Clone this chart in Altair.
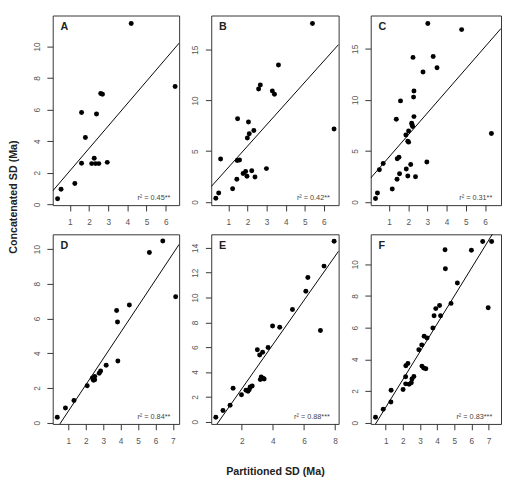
import altair as alt
import pandas as pd

FONT = "Liberation Sans"

panel_letters = ["A", "B", "C", "D", "E", "F"]

A_x = [0.36, 0.54, 1.26, 1.61, 1.61, 1.81, 2.14, 2.27, 2.34, 2.51, 2.39, 2.61, 2.70, 2.95, 4.20, 6.49]
A_y = [0.36, 0.95, 1.32, 2.60, 5.82, 4.24, 2.58, 2.92, 2.58, 2.58, 5.72, 7.02, 6.98, 2.66, 11.46, 7.46]

B_x = [0.34, 0.49, 0.59, 1.22, 1.44, 1.48, 1.46, 1.58, 1.77, 1.90, 1.97, 1.99, 2.05, 2.09, 2.22, 2.33,
       2.39, 2.58, 2.67, 2.99, 3.30, 3.41, 3.62, 5.40, 6.53]
B_y = [0.35, 0.88, 4.22, 1.29, 2.24, 8.19, 4.07, 4.13, 2.80, 2.99, 2.52, 6.30, 7.88, 6.71, 3.06, 7.03,
       2.46, 11.12, 11.53, 3.28, 10.94, 10.62, 13.49, 17.59, 7.19]

C_x = [0.30, 0.40, 0.50, 0.70, 1.17, 1.38, 1.42, 1.43, 1.52, 1.55, 1.60, 1.88, 1.90, 1.98, 1.98, 2.02,
       2.02, 2.13, 2.18, 2.20, 2.23, 2.25, 2.28, 2.30, 2.30, 2.38, 2.77, 2.97, 3.02, 3.30, 3.50, 4.78, 6.33]
C_y = [0.34, 0.88, 3.16, 3.76, 1.28, 8.11, 2.22, 4.23, 4.38, 2.76, 9.90, 6.55, 3.23, 2.54, 5.95, 5.86,
       6.95, 3.66, 7.70, 7.55, 7.39, 14.16, 10.27, 10.87, 8.36, 2.47, 12.72, 3.91, 17.48, 14.25, 13.15, 16.88, 6.70]

D_x = [0.36, 0.83, 1.32, 2.08, 2.38, 2.51, 2.44, 2.51, 2.77, 2.85, 3.17, 3.77, 3.82, 3.84, 4.50, 5.65, 6.42, 7.16]
D_y = [0.31, 0.85, 1.28, 2.13, 2.57, 2.67, 2.44, 2.48, 2.85, 2.98, 3.31, 6.46, 5.80, 3.56, 6.78, 9.80, 10.46, 7.26]

E_x = [0.33, 0.79, 1.25, 1.44, 1.98, 2.27, 2.40, 2.48, 2.54, 2.67, 3.00, 3.15, 3.19, 3.25, 3.34, 3.38,
       3.44, 3.69, 3.98, 4.44, 5.26, 6.12, 6.25, 7.06, 7.29, 7.94]
E_y = [0.36, 0.91, 1.32, 2.69, 2.17, 2.54, 2.46, 2.59, 2.80, 2.87, 5.80, 5.38, 3.39, 3.60, 5.59, 3.49,
       3.44, 5.98, 7.71, 7.61, 9.03, 10.51, 11.62, 7.35, 12.53, 14.54]

F_x = [0.40, 0.85, 1.30, 1.31, 2.01, 2.16, 2.17, 2.29, 2.16, 2.36, 2.49, 2.53, 2.64, 2.93, 3.10, 3.11,
       3.21, 3.34, 3.24, 3.41, 3.75, 3.82, 3.92, 4.14, 4.20, 4.46, 4.48, 4.81, 5.18, 6.00, 6.66, 6.98, 7.18]
F_y = [0.34, 0.85, 1.30, 2.05, 2.09, 2.90, 3.59, 3.73, 2.45, 2.43, 2.52, 2.76, 2.92, 4.60, 4.91, 3.57,
       3.45, 3.41, 5.46, 5.35, 5.98, 6.75, 7.20, 7.40, 6.75, 10.91, 9.72, 7.53, 8.82, 10.89, 11.44, 7.26, 11.44]

xs = [A_x, B_x, C_x, D_x, E_x, F_x]
ys = [A_y, B_y, C_y, D_y, E_y, F_y]

# regression lines (intercept, slope)
intercepts = [0.70, 1.30, 2.24, -0.84, -0.91, -0.78]
slopes = [1.42, 2.10, 2.16, 1.51, 1.78, 1.755]

r2_labels = ["r² = 0.45**", "r² = 0.42**", "r² = 0.31**", "r² = 0.84**", "r² = 0.88***", "r² = 0.83***"]

x_domains = [[0.107, 6.70], [0.10, 6.77], [0.05, 6.83], [0.10, 7.36], [0.035, 8.23], [0.12, 7.73]]
y_domains = [[-0.05, 11.96], [-0.32, 18.37], [-0.31, 18.26], [-0.07, 10.85], [-0.18, 15.09], [-0.08, 11.89]]

x_ticks = [[1, 2, 3, 4, 5, 6], [1, 2, 3, 4, 5, 6], [1, 2, 3, 4, 5, 6],
           [1, 2, 3, 4, 5, 6, 7], [2, 4, 6, 8], [1, 2, 3, 4, 5, 6, 7]]
y_ticks = [[0, 2, 4, 6, 8, 10], [0, 5, 10, 15], [0, 5, 10, 15],
           [0, 2, 4, 6, 8, 10], [0, 2, 4, 6, 8, 10, 12, 14], [0, 2, 4, 6, 8, 10]]

widths = [130, 131, 134, 130, 131, 134]
H = 195


def panel(i):
    w = widths[i]
    pts = pd.DataFrame({"x": xs[i], "y": ys[i]})
    x0, x1 = x_domains[i]
    ln = pd.DataFrame({"x": [x0, x1],
                       "y": [intercepts[i] + slopes[i] * x0, intercepts[i] + slopes[i] * x1]})
    xtitle = "Partitioned SD (Ma)" if i == 4 else None
    xaxis_kw = dict(values=x_ticks[i], labelPadding=7, labelAngle=0,
                    labelOverlap=False, labelFlush=False, labelBound=False)
    if xtitle:
        xaxis_kw.update(title=xtitle, titleFontSize=11, titleFontWeight="bold",
                        titleColor="#222", titleFont=FONT, titlePadding=21)
    else:
        xaxis_kw.update(title=None)
    xs_ = alt.X("x:Q", scale=alt.Scale(domain=x_domains[i], nice=False, zero=False),
                axis=alt.Axis(**xaxis_kw))
    ys_ = alt.Y("y:Q", scale=alt.Scale(domain=y_domains[i], nice=False, zero=False),
                axis=alt.Axis(values=y_ticks[i], title=None, labelAngle=-90, labelPadding=6,
                              labelOverlap=False, labelFlush=False, labelBound=False))
    points = alt.Chart(pts).mark_circle(size=26, color="black", opacity=1).encode(x=xs_, y=ys_)
    line = alt.Chart(ln).mark_line(color="black", strokeWidth=1, clip=True).encode(x=xs_, y=ys_)
    letter = alt.Chart(pd.DataFrame({"t": [panel_letters[i]]})).mark_text(
        font=FONT, fontSize=11, fontWeight="bold", color="#222", align="left", baseline="alphabetic"
    ).encode(text="t:N", x=alt.value(8), y=alt.value(15))
    r2 = alt.Chart(pd.DataFrame({"t": [r2_labels[i]]})).mark_text(
        font=FONT, fontSize=7.5, color="#444", align="right", baseline="alphabetic"
    ).encode(text="t:N", x=alt.value(w - 9), y=alt.value(H - 5))
    return alt.layer(line, points, letter, r2).properties(width=w, height=H)


row1 = alt.hconcat(panel(0), panel(1), panel(2), spacing=10)
row2 = alt.hconcat(panel(3), panel(4), panel(5), spacing=10)

chart = alt.vconcat(row1, row2, spacing=7).properties(
    title=alt.TitleParams("Concatenated SD (Ma)", orient="left", anchor="middle",
                          fontSize=11, fontWeight="bold", color="#222", font=FONT, offset=13, dx=50)
).configure(
    padding=0
).configure_view(
    stroke="#333", strokeWidth=1
).configure_axis(
    domain=False, grid=False, tickColor="#333", tickSize=6, labelColor="#555",
    labelFont=FONT, labelFontSize=8.5, labelOverlap=False, labelFlush=False, labelBound=False
)

chart.save("out.html", embed_options={"renderer": "svg", "actions": False})
